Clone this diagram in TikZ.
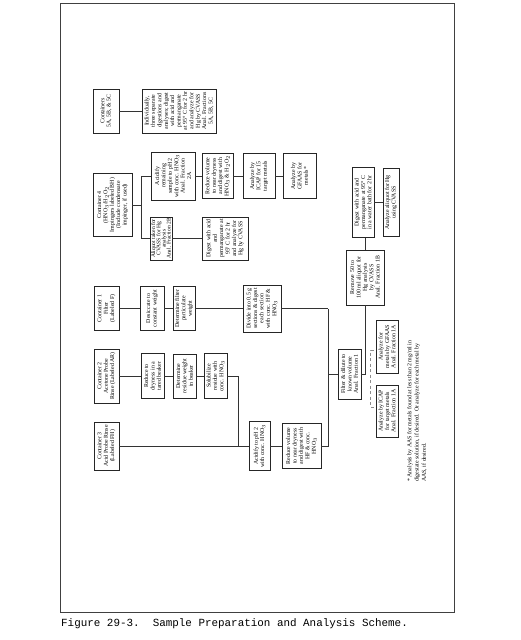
\documentclass[tikz,border=0pt]{standalone}
\usepackage{fontspec}
\setmainfont{Liberation Serif}
\newfontfamily\capfont{Liberation Mono}
\usetikzlibrary{calc}
\tikzset{
  bx/.style={draw=black!85, line width=0.6pt, rotate=90, align=center, inner sep=0.5pt,
    font=\fontsize{5.9}{6.4}\selectfont},
  ln/.style={draw=black!80, line width=0.6pt},
  dsh/.style={draw=black!45, line width=0.6pt, dash pattern=on 3pt off 2.5pt}
}
\begin{document}
\begin{tikzpicture}[x=1pt,y=-1pt]
\useasboundingbox (0,0) rectangle (520,640);
\fill[white] (0,0) rectangle (520,640);
% frame
\draw[draw=black!75, line width=0.8pt] (60,3) rectangle (454,612);
\node[anchor=base west, inner sep=0, font=\capfont\fontsize{10.9}{12}\selectfont] (cap) at (61,626)
  {Figure 29-3.\ \ Sample Preparation and Analysis Scheme.};

% containers
\node[bx, minimum width=48pt, minimum height=25pt] (c3) at (106.5,446) {Container 3\\Acid Probe Rinse\\(Labeled FH)};
\node[bx, minimum width=54pt, minimum height=25pt] (c2) at (106.5,376) {Container 2\\Acetone Probe\\Rinse (Labeled AR)};
\node[bx, minimum width=44pt, minimum height=25pt] (c1) at (106.5,308.5) {Container 1\\Filter\\(Labeled F)};
\node[bx, minimum width=63pt, minimum height=39pt] (c4) at (112.5,205) {Container 4\\(HNO$_3$/H$_2$O$_2$\\Impingers labeled BH)\\(Include condensate\\impinger, if used)};
\node[bx, minimum width=44pt, minimum height=26pt] (c5) at (106,111) {Containers\\5A, 5B, \& 5C};
\node[bx, minimum width=44pt, minimum height=74pt] (indiv) at (179,111) {Individually,\\three separate\\digestions and\\analyses; digest\\with acid and\\permanganate\\at 95° C for 2 hr\\and analyze for\\Hg by CVASS\\Anal. Fractions\\5A, 5B, 5C};

% container 2 chain
\node[bx, minimum width=45pt, minimum height=23pt] (red2) at (152.5,376) {Reduce to\\dryness in a\\tared beaker};
\node[bx, minimum width=44pt, minimum height=23pt] (det2) at (184.5,376) {Determine\\residue weight\\in beaker};
\node[bx, minimum width=45pt, minimum height=23pt] (sol) at (215.5,376) {Solubilize\\residue with\\conc. HNO$_3$};

% container 1 chain
\node[bx, minimum width=44pt, minimum height=24pt] (des) at (152,308.5) {Desiccate to\\constant weight};
\node[bx, minimum width=44pt, minimum height=22pt] (det1) at (184,308.5) {Determine filter\\particulate\\weight};
\node[bx, minimum width=47pt, minimum height=38pt] (div) at (262,308.5) {Divide into 0.5 g\\sections \& digest\\each section\\with conc. HF \&\\HNO$_3$};

% container 3 chain
\node[bx, minimum width=49pt, minimum height=21pt] (acid) at (259.5,446) {Acidify to pH 2\\with conc. HNO$_3$};
\node[bx, minimum width=45pt, minimum height=39pt] (redv) at (301.5,446) {Reduce volume\\to near dryness\\and digest with\\HF \& conc.\\HNO$_3$};

% fraction 1
\node[bx, minimum width=50pt, minimum height=23pt] (filt) at (349.5,374) {Filter \& dilute to\\known volume\\Anal. Fraction 1};
\node[bx, minimum width=52pt, minimum height=22pt] (icap1) at (387,411) {Analyze by ICAP\\for target metals\\Anal. Fraction 1A};
\node[bx, minimum width=53pt, minimum height=22pt] (gf1) at (387,346.5) {Analyze for\\metals by GFAAS\\Anal. Fraction 1A};
\node[bx, minimum width=55pt, minimum height=38pt] (rem) at (365,277.5) {Remove 50 to\\100 ml aliquot for\\Hg analysis\\by CVASS\\Anal. Fraction 1B};
\node[bx, minimum width=70pt, minimum height=22pt] (dig1b) at (363,202.5) {Digest with acid and\\permanganate at 95° C\\in a water bath for 2 hr};
\node[bx, minimum width=68pt, minimum height=16pt] (an1b) at (391,202.5) {Analyze aliquot for Hg\\using CVASS};

% container 4 branches
\node[bx, minimum width=43pt, minimum height=22pt, font=\fontsize{5.6}{5.2}\selectfont] (aliq) at (161,238.5) {Aliquot taken for\\CVASS for Hg\\analysis\\Anal. Fraction 2B};
\node[bx, minimum width=43pt, minimum height=46pt] (dig2b) at (225,238.5) {Digest with acid\\and\\permanganate at\\95° C for 2 hr\\and analyze for\\Hg by CVASS};
\node[bx, minimum width=48pt, minimum height=44pt] (acid2a) at (173,176) {Acidify\\remaining\\sample to pH 2\\with conc. HNO$_3$\\Anal. Fraction\\2A};
\node[bx, minimum width=45pt, minimum height=31pt] (red2a) at (217.5,176) {Reduce volume\\to near dryness\\and digest with\\HNO$_3$ \& H$_2$O$_2$};
\node[bx, minimum width=45pt, minimum height=32pt] (icap2) at (259,176) {Analyze by\\ICAP for 15\\target metals};
\node[bx, minimum width=45pt, minimum height=33pt] (gf2) at (299.5,176) {Analyze by\\GFAAS for\\metals*};

% footnote
\node[rotate=90, anchor=north west, align=left, inner sep=0, font=\fontsize{5.9}{7.2}\selectfont] (fn) at (407,482)
  {* Analysis by AAS for metals found at less than 2 mg/ml in\\digestate solution, if desired. Or analyze for each metal by\\AAS, if desired.};

% junctions
\coordinate (j1) at (238,446);
\coordinate (j3) at (328,308.5);
\coordinate (b4) at (141,205);

% connectors
\draw[ln] (c3.south) -- (acid.north);
\draw[ln] (acid.south) -- (redv.north);
\draw[ln] (c2.south) -- (red2.north);
\draw[ln] (red2.south) -- (det2.north);
\draw[ln] (det2.south) -- (sol.north);
\draw[ln] (sol.south) -| (j1);
\draw[ln] (c1.south) -- (des.north);
\draw[ln] (des.south) -- (det1.north);
\draw[ln] (det1.south) -- (div.north);
\draw[ln] (div.south) -- (j3);
\draw[ln] (redv.south) -| (j3);
\draw[ln] (j3 |- filt.north) -- (filt.north);
\draw[ln] (filt.south) -| (rem.west);
\draw[ln] (rem.east) -- (rem.east |- dig1b.west);
\draw[ln] (dig1b.south) -- (an1b.north);
\draw[ln] (c4.south) -- (b4);
\draw[ln] (acid2a.north) -- (b4 |- acid2a.north) -- (b4 |- aliq.north) -- (aliq.north);
\draw[ln] (aliq.south) -- (dig2b.north);
\draw[ln] (acid2a.south) -- (red2a.north);
\draw[ln] (red2a.south) -- (icap2.north);
\draw[ln] (icap2.south) -- (gf2.north);
\draw[ln] (c5.south) -- (indiv.north);
% dashed bracket
\draw[dsh] ($(gf1.north)+(-2,3.5)$) -- ($(gf1.north)+(-5,3.5)$) -- ($(icap1.north)+(-5,-4)$) -- ($(icap1.north)+(-2,-4)$);
\end{tikzpicture}
\end{document}
